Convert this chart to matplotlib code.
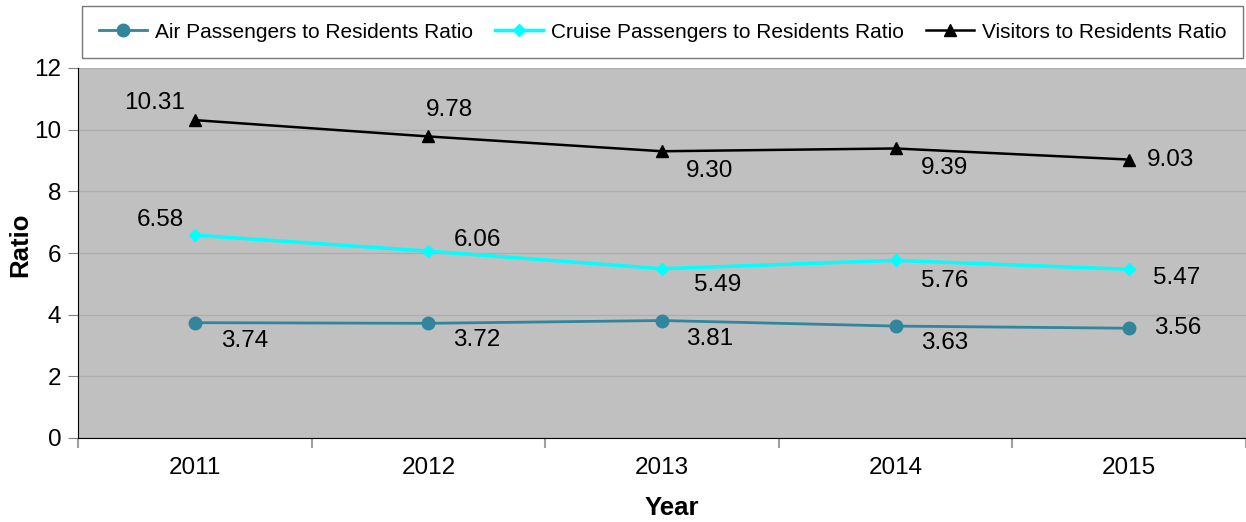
import matplotlib
matplotlib.use("Agg")
import matplotlib.pyplot as plt
from matplotlib.ticker import FixedLocator

plt.rcParams['font.family'] = ['Liberation Sans', 'DejaVu Sans']

years = ["2011", "2012", "2013", "2014", "2015"]
air = [3.74, 3.72, 3.81, 3.63, 3.56]
cruise = [6.58, 6.06, 5.49, 5.76, 5.47]
visitors = [10.31, 9.78, 9.30, 9.39, 9.03]
series_names = ["Air Passengers to Residents Ratio",
                "Cruise Passengers to Residents Ratio",
                "Visitors to Residents Ratio"]

# label offsets in points (dx, dy)
off_air = [(36, -13), (35, -12), (34, -13), (35, -12), (35, 0)]
off_cruise = [(-25, 11), (35, 8), (40, -12), (35, -15), (34, -6)]
off_vis = [(-29, 12), (15, 19), (34, -14), (35, -14), (30, 0)]

fig = plt.figure(figsize=(12.46, 5.22), dpi=100)
ax = fig.add_axes([78/1246, 1-438/522, 1-78/1246, (438-68)/522])
ax.set_facecolor('#C0C0C0')
x = list(range(len(years)))

l1, = ax.plot(x, air, color='#31859C', marker='o', markersize=9, lw=2, label=series_names[0], zorder=3)
l2, = ax.plot(x, cruise, color='#00FFFF', marker='D', markersize=6, lw=2.5, label=series_names[1], zorder=3)
l3, = ax.plot(x, visitors, color='black', marker='^', markersize=9, lw=1.8, label=series_names[2], zorder=3)

for vals, offs in ((air, off_air), (cruise, off_cruise), (visitors, off_vis)):
    for xi, v, (dx, dy) in zip(x, vals, offs):
        ax.annotate(f"{v:.2f}", (xi, v), xytext=(dx, dy), textcoords='offset points',
                    ha='center', va='center', fontsize=17.5, color='black')

ax.set_xlim(-0.5, 4.5)
ax.set_ylim(0, 12)
ax.set_yticks([0, 2, 4, 6, 8, 10, 12])
ax.grid(axis='y', color='#AEAEAE', lw=1, zorder=0)
ax.set_axisbelow(True)
ax.set_xticks(x)
ax.set_xticklabels(years)
ax.xaxis.set_minor_locator(FixedLocator([i - 0.5 for i in range(len(years) + 1)]))
ax.tick_params(axis='x', which='major', length=0, pad=14, labelsize=17.5)
ax.tick_params(axis='x', which='minor', length=7, width=1.5, color='#A0A0A0', direction='out')
ax.tick_params(axis='y', length=7, color='#808080', direction='out', labelsize=17.5, pad=5)
for s in ('top', 'right'):
    ax.spines[s].set_visible(False)
ax.spines['left'].set_color('black')
ax.spines['bottom'].set_color('black')

fig.text(20/1246, 1-245/522, "Ratio", rotation=90, ha='center', va='center', fontsize=18.5, fontweight='bold')
fig.text(672/1246, 1-508/522, "Year", ha='center', va='center', fontsize=18.5, fontweight='bold')

leg = fig.legend(handles=[l1, l2, l3], loc='upper left', ncol=3,
                 bbox_to_anchor=(82/1246, 1-6/522),
                 fontsize=15, frameon=True, fancybox=False,
                 handlelength=2.3, handletextpad=0.4, borderaxespad=0,
                 borderpad=0.8, columnspacing=1.05)
leg.get_frame().set_edgecolor('#555555')
leg.get_frame().set_linewidth(1)

fig.savefig('out.png', dpi=100)
